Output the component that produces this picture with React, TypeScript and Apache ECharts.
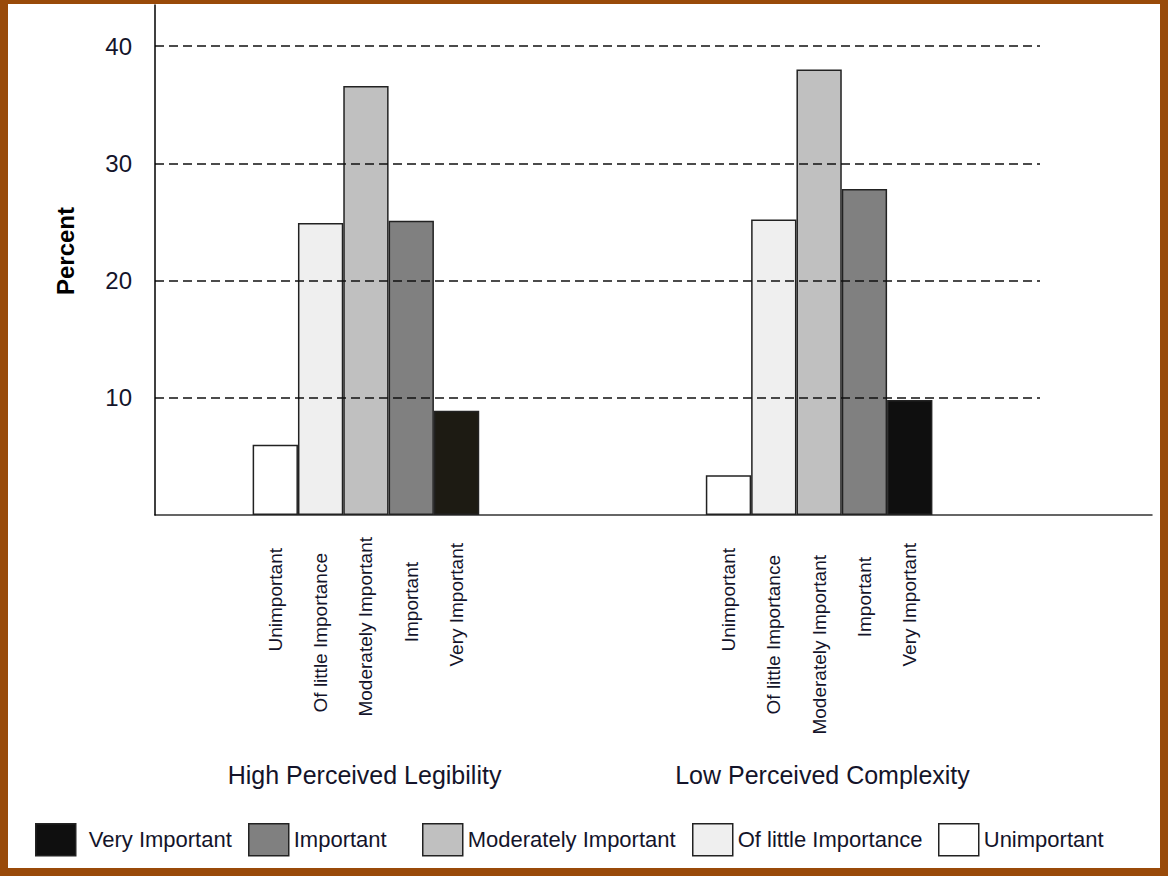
import React, { useEffect, useRef } from "react";
import * as echarts from "echarts";

// ---- data ----
const groupNames = ["High Perceived Legibility", "Low Perceived Complexity"];
const barOrder = ["Unimportant", "Of little Importance", "Moderately Important", "Important", "Very Important"];
const legendOrder = ["Very Important", "Important", "Moderately Important", "Of little Importance", "Unimportant"];
const highLegibility = [6.0, 24.9, 36.6, 25.1, 8.9];
const lowComplexity = [3.4, 25.2, 38.0, 27.8, 9.8];
const yTicks = [10, 20, 30, 40];

const groupValues = [highLegibility, lowComplexity];
const slotCount = 22;
const groupStartSlot = [2, 12];
// visual offsets of the rotated labels (px, downward)
const labelShift = [
  [11, 16, 0, 25, 6],
  [11, 18, 18, 20, 6],
];

const levelColors: Record<string, string> = {
  "Very Important": "#0f0f0f",
  Important: "#808080",
  "Moderately Important": "#c0c0c0",
  "Of little Importance": "#efefef",
  Unimportant: "#ffffff",
};

const FONT = "'Liberation Sans', Arial, sans-serif";

export default function App() {
  const ref = useRef<HTMLDivElement>(null);
  useEffect(() => {
    if (!ref.current) return;
    const chart = echarts.init(ref.current, undefined, { renderer: "svg" });

    const categories: any[] = [];
    for (let s = 0; s < slotCount; s++) {
      let item: any = { value: "slot" + s + "|" };
      groupStartSlot.forEach((start, g) => {
        const i = s - start;
        if (i >= 0 && i < barOrder.length) {
          item = {
            value: "slot" + s + "|" + barOrder[i],
            textStyle: { padding: [0, labelShift[g][i], 0, 0] },
          };
        }
      });
      categories.push(item);
    }

    const series = legendOrder.map((name) => {
      const data: any[] = new Array(slotCount).fill(null);
      const idx = barOrder.indexOf(name);
      groupValues.forEach((vals, g) => {
        const v = vals[idx];
        if (name === "Very Important" && g === 0) {
          data[groupStartSlot[g] + idx] = { value: v, itemStyle: { color: "#1d1b13" } };
        } else {
          data[groupStartSlot[g] + idx] = v;
        }
      });
      return {
        name,
        type: "bar",
        xAxisIndex: 0,
        yAxisIndex: 0,
        data,
        barGap: "-100%",
        barCategoryGap: "0%",
        itemStyle: { color: levelColors[name], borderColor: "#222", borderWidth: 1.5 },
      };
    });

    const legendLeft = [35, 248, 422, 692, 938];
    const legends = legendOrder.map((name, i) => ({
      data: [name],
      left: legendLeft[i],
      top: 823,
      padding: 0,
      itemWidth: 40,
      itemHeight: 32,
      icon: "rect",
      selectedMode: false,
      itemStyle: { borderColor: "#222", borderWidth: 1.5 },
      textStyle: {
        fontSize: 22,
        color: "#14142a",
        fontFamily: FONT,
        padding: [0, 0, 0, i === 0 ? 8 : 0],
      },
    }));

    const yMax = 43.5;

    chart.setOption({
      animation: false,
      backgroundColor: "#ffffff",
      textStyle: { fontFamily: FONT },
      legend: legends,
      grid: [
        { left: 162, top: 5, width: 997, height: 510 },
        { left: 155, top: 5, width: 885, height: 510 },
        { left: 155, top: 5, width: 997, height: 510 },
      ],
      xAxis: [
        {
          type: "category",
          gridIndex: 0,
          data: categories,
          axisLine: { show: false },
          axisTick: { show: false },
          splitLine: { show: false },
          axisLabel: {
            interval: 0,
            rotate: 90,
            margin: 22,
            fontSize: 19,
            color: "#14142a",
            fontFamily: FONT,
            formatter: (v: string) => v.split("|")[1] || "",
          },
        },
        { type: "value", gridIndex: 1, min: 0, max: 1, show: false },
        {
          type: "value",
          gridIndex: 2,
          min: 0,
          max: 1,
          axisLine: { show: true, lineStyle: { color: "#333", width: 1.5 } },
          axisTick: { show: false },
          axisLabel: { show: false },
          splitLine: { show: false },
        },
      ],
      yAxis: [
        { type: "value", gridIndex: 0, min: 0, max: yMax, show: false },
        {
          type: "value",
          gridIndex: 1,
          min: 0,
          max: yMax,
          interval: 10,
          z: 5,
          axisLine: { show: true, lineStyle: { color: "#000", width: 1.5 } },
          axisTick: { show: false },
          axisLabel: {
            fontSize: 24,
            margin: 23,
            color: "#14142a",
            fontFamily: FONT,
            showMinLabel: false,
            showMaxLabel: false,
            formatter: (v: number) => (yTicks.indexOf(v) >= 0 ? String(v) : ""),
          },
          splitLine: {
            show: true,
            showMinLine: false,
            showMaxLine: false,
            lineStyle: { color: "#111", width: 1.6, type: [9, 5] },
          },
        },
        { type: "value", gridIndex: 2, min: 0, max: 1, show: false },
      ],
      series,
      graphic: [
        {
          type: "text",
          x: 65,
          y: 251,
          rotation: Math.PI / 2,
          style: {
            text: "Percent",
            fontSize: 24,
            fontWeight: "bold",
            fill: "#000",
            fontFamily: FONT,
            align: "center",
            verticalAlign: "middle",
          },
        },
        ...groupNames.map((g, i) => ({
          type: "text",
          x: [364.5, 822.5][i],
          y: 775,
          style: {
            text: g,
            fontSize: 25,
            fill: "#14142a",
            fontFamily: FONT,
            align: "center",
            verticalAlign: "middle",
          },
        })),
        { type: "rect", z: 100, shape: { x: 0, y: 0, width: 1168, height: 4 }, style: { fill: "#994a09" } },
        { type: "rect", z: 100, shape: { x: 0, y: 868, width: 1168, height: 8 }, style: { fill: "#994a09" } },
        { type: "rect", z: 100, shape: { x: 0, y: 0, width: 8, height: 876 }, style: { fill: "#994a09" } },
        { type: "rect", z: 100, shape: { x: 1160, y: 0, width: 8, height: 876 }, style: { fill: "#994a09" } },
      ],
    });

    return () => chart.dispose();
  }, []);

  return (
    <div
      ref={ref}
      style={{ position: "absolute", left: 0, top: 0, width: 1168, height: 876 }}
    />
  );
}
